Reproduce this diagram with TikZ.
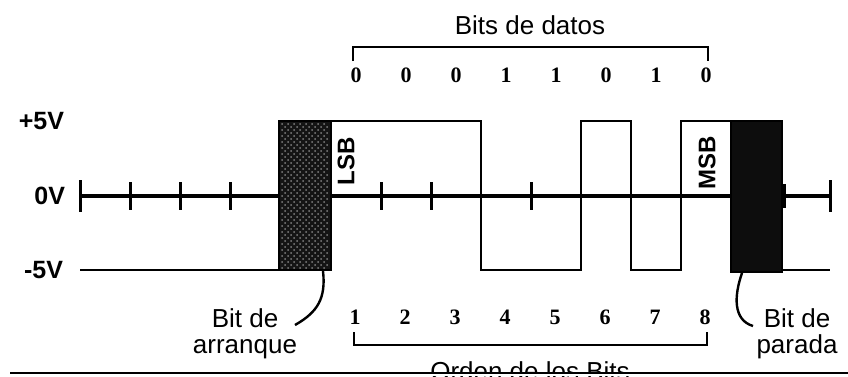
\documentclass[tikz,border=0pt]{standalone}
\usepackage{fontspec}
\setmainfont{Liberation Sans}
\newfontfamily\serifdigits{Liberation Serif}
\usetikzlibrary{positioning,patterns}

\tikzset{
  signal/.style={line width=1pt},
  axisline/.style={line width=1.6pt},
  tickmark/.style={line width=1.5pt},
  bitbox/.style={draw=black, line width=0.6pt},
  brace/.style={line width=1.2pt},
  lbl/.style={font=\fontsize{13}{13}\selectfont},
  level/.style={font=\bfseries\fontsize{12.5}{13}\selectfont, anchor=east},
  vlabel/.style={font=\bfseries\fontsize{12}{12}\selectfont, rotate=90},
  bitnum/.style={font=\serifdigits\bfseries\fontsize{11}{11}\selectfont},
  pointer/.style={line width=1.2pt}
}

\begin{document}
\begin{tikzpicture}[x=0.5pt,y=-0.5pt]
  \useasboundingbox (0,0) rectangle (848,376);
  \clip (0,0) rectangle (848,376);

  % voltage levels
  \node[level] (hi)  at (71,121) {+5V};
  \node[level] (zero) at (72,196) {0V};
  \node[level] (lo)  at (70,270) {-5V};

  % time axis with ticks
  \draw[axisline] (80,196) -- (830,196);
  \draw[tickmark] (80,180) -- (80,212);
  \draw[tickmark] (830,180) -- (830,212);
  \foreach \x in {130,180,230,381,431,531}
    \draw[tickmark] (\x,182) -- (\x,210);

  % the character 00011010 on the line
  \draw[signal] (80,270) -- (279,270) -- (279,121) -- (481,121)
    -- (481,270) -- (581,270) -- (581,121) -- (631,121)
    -- (631,270) -- (681,270) -- (681,121) -- (731,121);
  \draw[signal] (782,270) -- (830,270);

  % start and stop bits
  \fill[bitbox, fill=black!92] (279,121) rectangle (331,270);
  \fill[pattern=crosshatch dots, pattern color=black!50] (281,123) rectangle (329,268);
  \fill[bitbox, fill=black!95] (731,121) rectangle (782,272);
  \fill[black] (782,184) rectangle (786,208);

  \node[vlabel] (lsb) at (346,161) {LSB};
  \node[vlabel] (msb) at (707,163) {MSB};

  % data bits on top
  \node[lbl] (datos) at (530,25) {Bits de datos};
  \draw[brace] (353,61) -- (353,47) -- (708,47) -- (708,61);
  \foreach \b [count=\i from 0] in {0,0,0,1,1,0,1,0}
    \node[bitnum] (d\i) at (356+50*\i,75) {\b};

  % bit order below
  \foreach \i in {1,...,8}
    \node[bitnum] (n\i) at (305+50*\i,317) {\i};
  \draw[brace] (354,332) -- (354,345) -- (707,345) -- (707,332);
  \node[lbl, anchor=base] (orden) at (530,380) {Orden de los Bits};

  % pointers to the framing bits
  \node[lbl, align=center] (arranque) at (245,334) {Bit de\\arranque};
  \node[lbl, align=center] (parada) at (797,334) {Bit de\\parada};
  \coordinate (startfoot) at (323,271);
  \coordinate (startend) at (295,325);
  \coordinate (stopfoot) at (742,273);
  \coordinate (stopend) at (753,326);
  \draw[pointer] (startfoot) .. controls (326,298) and (318,312) .. (startend);
  \draw[pointer] (stopfoot) .. controls (734,296) and (733,320) .. (stopend);

  % bottom rule
  \fill[white] (0,373) rectangle (848,376);
  \draw[line width=1.2pt] (10,373) -- (848,373);
\end{tikzpicture}
\end{document}
